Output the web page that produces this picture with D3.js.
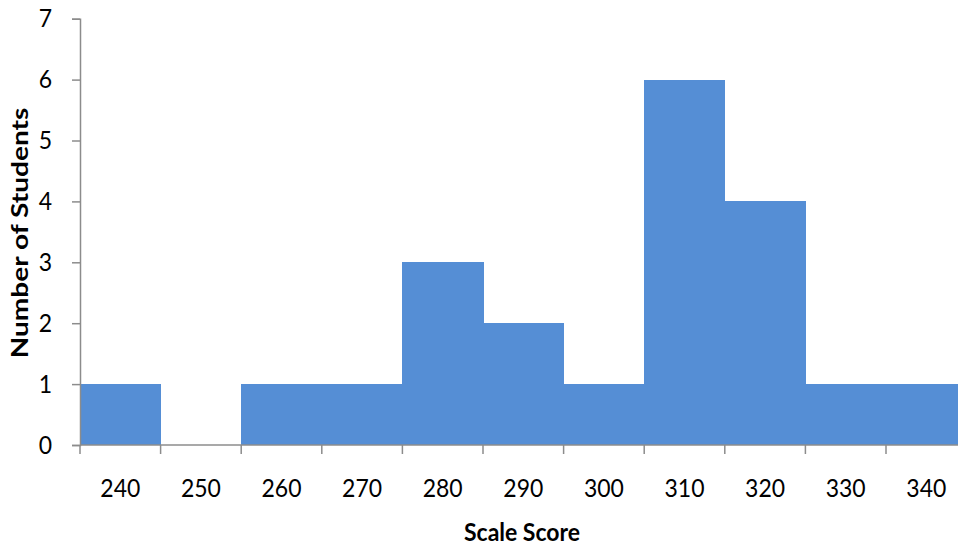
<!DOCTYPE html>
<html>
<head>
<meta charset="utf-8">
<script src="https://cdn.jsdelivr.net/npm/d3@7"></script>
<style>
  html, body { margin: 0; padding: 0; background: #fff; overflow: hidden; }
  svg { display: block; font-family: Lato, "Open Sans", sans-serif; }
</style>
</head>
<body>
<svg id="chart" width="958" height="547"></svg>
<script>
// Histogram bins (scale score) and counts of students
const bins = [240, 250, 260, 270, 280, 290, 300, 310, 320, 330, 340];
const counts = [1, 0, 1, 1, 3, 2, 1, 6, 4, 1, 1];
const yTicks = [0, 1, 2, 3, 4, 5, 6, 7];

const svg = d3.select("#chart");
const plotLeft = 80, plotBottom = 445, plotTop = 18.7;
const binWidth = 80.6;
const plotRight = plotLeft + bins.length * binWidth;

const x = d3.scaleBand().domain(bins).range([plotLeft, plotRight]).padding(0);
const y = d3.scaleLinear().domain([0, 7]).range([plotBottom, plotTop]);

const axisColor = "#8c8c8c";
const labelSize = 23;

// bars (crisp edges so adjacent bins join without seams)
svg.append("g").attr("shape-rendering", "crispEdges").selectAll("rect")
  .data(bins.map((b, i) => ({ bin: b, count: counts[i] })))
  .join("rect")
  .attr("x", d => x(d.bin))
  .attr("width", x.bandwidth() + 0.5)
  .attr("y", d => y(d.count))
  .attr("height", d => plotBottom - y(d.count))
  .attr("fill", "#558ed5");

// y axis
const yAxis = svg.append("g")
  .attr("transform", `translate(${plotLeft},0)`)
  .call(d3.axisLeft(y).tickValues(yTicks).tickFormat(d3.format("d")).tickSize(8).tickPadding(20));
yAxis.select(".domain").attr("stroke", axisColor).attr("stroke-width", 1.5);
yAxis.selectAll(".tick line").attr("stroke", axisColor).attr("stroke-width", 1.5);
yAxis.selectAll(".tick text")
  .attr("fill", "#000")
  .attr("font-size", labelSize)
  .attr("font-family", "Lato, sans-serif")
  .attr("transform", "scale(1,1.1)");

// x axis: ticks at bin boundaries, labels at bin centres
const xAxisG = svg.append("g").attr("transform", `translate(0,${plotBottom})`);
xAxisG.append("line")
  .attr("x1", plotLeft).attr("x2", plotRight)
  .attr("stroke", axisColor).attr("stroke-width", 1.5);
const boundaries = bins.map(b => x(b)).concat([plotRight]);
xAxisG.selectAll("line.tk")
  .data(boundaries)
  .join("line")
  .attr("class", "tk")
  .attr("x1", d => d).attr("x2", d => d)
  .attr("y1", 0).attr("y2", 9)
  .attr("stroke", axisColor).attr("stroke-width", 1.5);
xAxisG.selectAll("text.lbl")
  .data(bins)
  .join("text")
  .attr("class", "lbl")
  .attr("transform", d => `translate(${x(d) + x.bandwidth() / 2},52) scale(1,1.1)`)
  .attr("text-anchor", "middle")
  .attr("font-size", labelSize)
  .attr("fill", "#000")
  .text(d => d);

// axis titles
svg.append("text")
  .attr("transform", "translate(522,541) scale(1,1.1)")
  .attr("text-anchor", "middle")
  .attr("font-size", labelSize).attr("font-weight", "bold")
  .text("Scale Score");

svg.append("text")
  .attr("transform", "translate(28,233) rotate(-90) scale(1.22,1)")
  .attr("text-anchor", "middle")
  .attr("font-size", labelSize).attr("font-weight", "bold")
  .text("Number of Students");
</script>
</body>
</html>
